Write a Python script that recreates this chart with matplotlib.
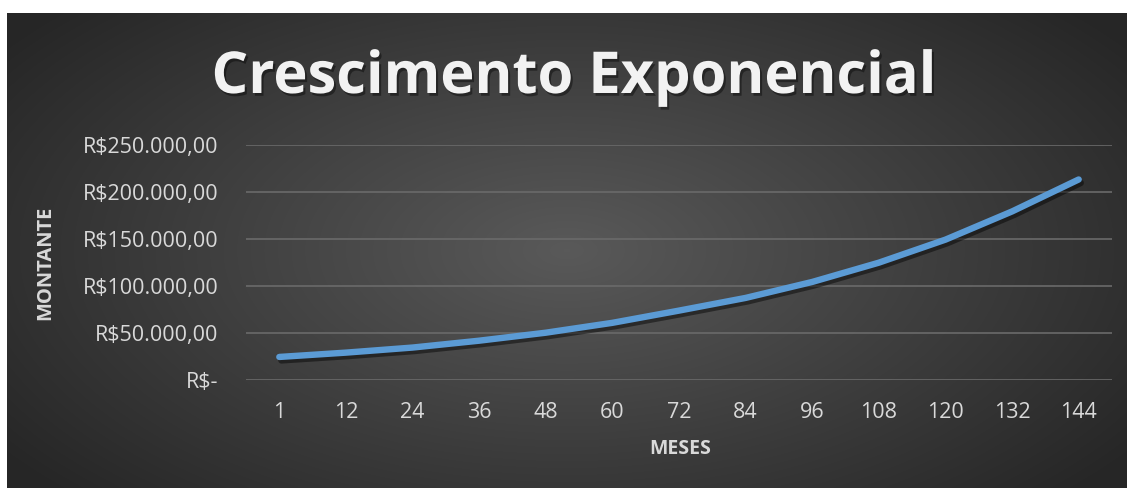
import numpy as np
import matplotlib.pyplot as plt
import matplotlib.patheffects as pe
from matplotlib.ticker import FuncFormatter

meses = ["1", "12", "24", "36", "48", "60", "72", "84", "96", "108", "120", "132", "144"]
montante = [24200, 28800, 34200, 41500, 50000, 60500, 73500, 87000,
            104000, 124500, 149000, 179000, 213000]
yticks = [0, 50000, 100000, 150000, 200000, 250000]


def brl(v, pos=None):
    if v == 0:
        return "R$-"
    s = f"{v:,.2f}"
    s = s.replace(",", "X").replace(".", ",").replace("X", ".")
    return "R$" + s


W, H = 1130, 488
fig = plt.figure(figsize=(W / 100, H / 100), dpi=100)
fig.patch.set_facecolor("white")

# radial gradient background
bg = fig.add_axes([7 / W, 0, 1 - 10 / W, 1 - 13 / H])
yy, xx = np.mgrid[0:1:300j, 0:1:700j]
r = np.sqrt(((xx - 0.5) / 0.62) ** 2 + ((yy - 0.5) / 0.75) ** 2)
shade = np.clip(0.35 - 0.2 * r, 0.15, 0.35)
img = np.dstack([shade, shade, shade])
bg.imshow(img, aspect="auto", extent=(0, 1, 0, 1), interpolation="bilinear")
bg.set_axis_off()

# plot area
x0, x1 = 246, 1112
ytop, ybot = 144.7, 379.7
ax = fig.add_axes([x0 / W, 1 - ybot / H, (x1 - x0) / W, (ybot - ytop) / H])
ax.set_facecolor("none")
x = np.arange(len(meses))
ax.plot(x, montante, color="#5b9bd5", lw=4.6, solid_capstyle="round",
        path_effects=[pe.SimpleLineShadow(offset=(1.5, -2.5), shadow_color="black", alpha=0.45),
                      pe.Normal()])
ax.set_xlim(-0.5, len(meses) - 0.5)
ax.set_ylim(0, 250000)
ax.set_yticks(yticks)
ax.yaxis.set_major_formatter(FuncFormatter(brl))
ax.set_xticks(x)
ax.set_xticklabels(meses)
ax.grid(axis="y", color="#6a6a6a", lw=1.2)
ax.set_axisbelow(True)
for s in ax.spines.values():
    s.set_visible(False)
ax.tick_params(length=0, colors="#d9d9d9", labelsize=15.5)
ax.tick_params(axis="y", pad=20)
ax.tick_params(axis="x", pad=16)
for lab in ax.get_xticklabels() + ax.get_yticklabels():
    lab.set_family("Open Sans")

fig.text(680 / W, 1 - 449 / H, "MESES", color="#d9d9d9", fontsize=14, fontweight="bold",
         family="Open Sans", ha="center", va="center")
fig.text(45 / W, 1 - 263 / H, "MONTANTE", color="#d9d9d9", fontsize=14.5, fontweight="bold",
         family="Open Sans", ha="center", va="center", rotation=90)

fig.text(574 / W, 1 - 78 / H, "Crescimento Exponencial", color="#f2f2f2", fontsize=41.6,
         fontweight="bold", family="Open Sans", ha="center", va="center",
         path_effects=[pe.withSimplePatchShadow(offset=(1.5, -2), shadow_rgbFace="black", alpha=0.4)])

fig.savefig("out.png", dpi=100)
